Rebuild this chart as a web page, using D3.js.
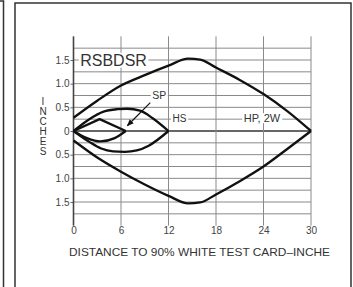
<!DOCTYPE html>
<html><head><meta charset="utf-8">
<script src="https://cdn.jsdelivr.net/npm/d3@7"></script>
<style>body{margin:0;background:#fff}svg{display:block}text{font-family:"Liberation Sans",Arial,sans-serif}</style>
</head><body><svg id="c" width="353" height="287"></svg>
<script>
// ---- data ----
const xTicks = [0, 6, 12, 18, 24, 30];
const yTickValues = [1.5, 1.0, 0.5, 0, -0.5, -1.0, -1.5];
const yTickLabels = ["1.5", "1.0", "0.5", "0", "0.5", "1.0", "1.5"];
const gridYValues = [-1.75, -1.5, -1.25, -1, -0.75, -0.5, -0.25, 0, 0.25, 0.5, 0.75, 1, 1.25, 1.5, 1.75];

const rsbdsrUpperX = [0, 3, 6, 9, 12, 14.5, 16, 18, 21, 24, 27, 30];
const rsbdsrUpperY = [0.28, 0.64, 0.96, 1.18, 1.38, 1.53, 1.51, 1.34, 1.08, 0.78, 0.42, 0];
const rsbdsrLowerX = [0, 3, 6, 9, 12, 14.5, 16, 18, 21, 24, 27, 30];
const rsbdsrLowerY = [-0.2, -0.56, -0.86, -1.13, -1.37, -1.53, -1.51, -1.34, -1.06, -0.75, -0.38, 0];

const hsUpperX = [0, 2, 3.8, 5.5, 6.8, 8.4, 10, 12];
const hsUpperY = [0, 0.25, 0.41, 0.46, 0.47, 0.43, 0.27, 0];
const hsLowerX = [0, 2, 3.5, 5, 6.5, 8, 9.5, 12];
const hsLowerY = [0, -0.23, -0.37, -0.43, -0.44, -0.41, -0.31, 0];

const spUpperX = [0, 3.3, 6.6];
const spUpperY = [0, 0.25, 0];
const spLowerX = [0, 1.7, 3.4, 5.2, 6.6];
const spLowerY = [0, -0.15, -0.22, -0.15, 0];

const labels = [
  {text: "RSBDSR", x: 0.85, y: 1.5, size: 16},
  {text: "SP", x: 9.95, y: 0.75, size: 10.5},
  {text: "HS", x: 12.5, y: 0.27, size: 10},
  {text: "HP, 2W", x: 21.5, y: 0.27, size: 11}
];
const arrowFrom = [9.7, 0.6];
const arrowTo = [6.8, 0.11];

// ---- drawing ----
const svg = d3.select("#c");
const x = d3.scaleLinear().domain([0, 30]).range([73.5, 311]);
const y = d3.scaleLinear().domain([-1.5, 1.5]).range([202, 60]);

// frames
svg.append("path").attr("d", "M0,1 H3.5 V287").attr("fill", "none").attr("stroke", "#333").attr("stroke-width", 1.5);
svg.append("path").attr("d", "M15,287 V3 H351 V287").attr("fill", "none").attr("stroke", "#333").attr("stroke-width", 1.5);

// horizontal grid
svg.append("g").selectAll("line").data(gridYValues).join("line")
  .attr("x1", x(0)).attr("x2", x(30))
  .attr("y1", d => y(d)).attr("y2", d => y(d))
  .attr("stroke", d => d === 0 ? "#333" : "#8a8a8a")
  .attr("stroke-width", d => d === 0 ? 1.6 : 1);

// vertical grid
svg.append("g").selectAll("line").data(xTicks.slice(1)).join("line")
  .attr("x1", d => x(d)).attr("x2", d => x(d))
  .attr("y1", y(2)).attr("y2", y(-2))
  .attr("stroke", "#8a8a8a").attr("stroke-width", 1);

// y axis
const yAxis = d3.axisLeft(y).tickValues(yTickValues).tickSize(3).tickPadding(1)
  .tickFormat((d, i) => yTickLabels[i]);
const ga = svg.append("g").attr("transform", `translate(${x(0)},0)`).call(yAxis);
ga.select(".domain").remove();
ga.selectAll(".tick line").attr("stroke", "#666");
ga.selectAll(".tick text").attr("font-size", 10).attr("fill", "#444").attr("font-family", "Liberation Sans, Arial, sans-serif");
svg.append("line").attr("x1", x(0)).attr("x2", x(0)).attr("y1", y(2)).attr("y2", y(-2))
  .attr("stroke", "#444").attr("stroke-width", 1.6);

// x axis
const xAxis = d3.axisBottom(x).tickValues(xTicks).tickSize(0).tickPadding(1).tickFormat(d3.format("d"));
const gx = svg.append("g").attr("transform", `translate(0,${y(-2)})`).call(xAxis);
gx.select(".domain").remove();
gx.selectAll(".tick text").attr("font-size", 10).attr("fill", "#444").attr("font-family", "Liberation Sans, Arial, sans-serif");

// axis titles
svg.append("text").attr("x", 69).attr("y", 256).attr("font-size", 10.5).attr("fill", "#333")
  .attr("textLength", 261).attr("lengthAdjust", "spacingAndGlyphs")
  .text("DISTANCE TO 90% WHITE TEST CARD\u2013INCHE");
const yTitle = "INCHES".split("");
svg.append("g").selectAll("text").data(yTitle).join("text")
  .attr("x", 43).attr("y", (d, i) => 105 + i * 10).attr("text-anchor", "middle")
  .attr("font-size", 10).attr("fill", "#333").text(d => d);

// curves
const line = d3.line().x(d => x(d[0])).y(d => y(d[1])).curve(d3.curveMonotoneX);
const lineLin = d3.line().x(d => x(d[0])).y(d => y(d[1]));
const zip = (a, b) => a.map((v, i) => [v, b[i]]);
const curves = [
  [zip(rsbdsrUpperX, rsbdsrUpperY), line],
  [zip(rsbdsrLowerX, rsbdsrLowerY), line],
  [zip(hsUpperX, hsUpperY), line],
  [zip(hsLowerX, hsLowerY), line],
  [zip(spUpperX, spUpperY), lineLin],
  [zip(spLowerX, spLowerY), line]
];
svg.append("g").selectAll("path").data(curves).join("path")
  .attr("d", d => d[1](d[0])).attr("fill", "none").attr("stroke", "#111")
  .attr("stroke-width", 2.3).attr("stroke-linejoin", "round");

// labels with white backgrounds
labels.forEach(l => {
  const t = svg.append("text").attr("x", x(l.x)).attr("y", y(l.y)).attr("dy", "0.36em")
    .attr("font-size", l.size).attr("fill", "#333").text(l.text);
  const b = t.node().getBBox();
  svg.insert("rect", () => t.node()).attr("x", b.x - 1.5).attr("y", b.y + 1).attr("width", b.width + 3)
    .attr("height", b.height - 2).attr("fill", "#fff");
});

// arrow
svg.append("defs").append("marker").attr("id", "ah").attr("viewBox", "0 0 10 10")
  .attr("refX", 9).attr("refY", 5).attr("markerWidth", 7).attr("markerHeight", 7)
  .attr("orient", "auto").attr("markerUnits", "userSpaceOnUse")
  .append("path").attr("d", "M0,1 L10,5 L0,9 Z").attr("fill", "#111");
svg.append("line").attr("x1", x(arrowFrom[0])).attr("y1", y(arrowFrom[1]))
  .attr("x2", x(arrowTo[0])).attr("y2", y(arrowTo[1]))
  .attr("stroke", "#111").attr("stroke-width", 1.2).attr("marker-end", "url(#ah)");
</script></body></html>
